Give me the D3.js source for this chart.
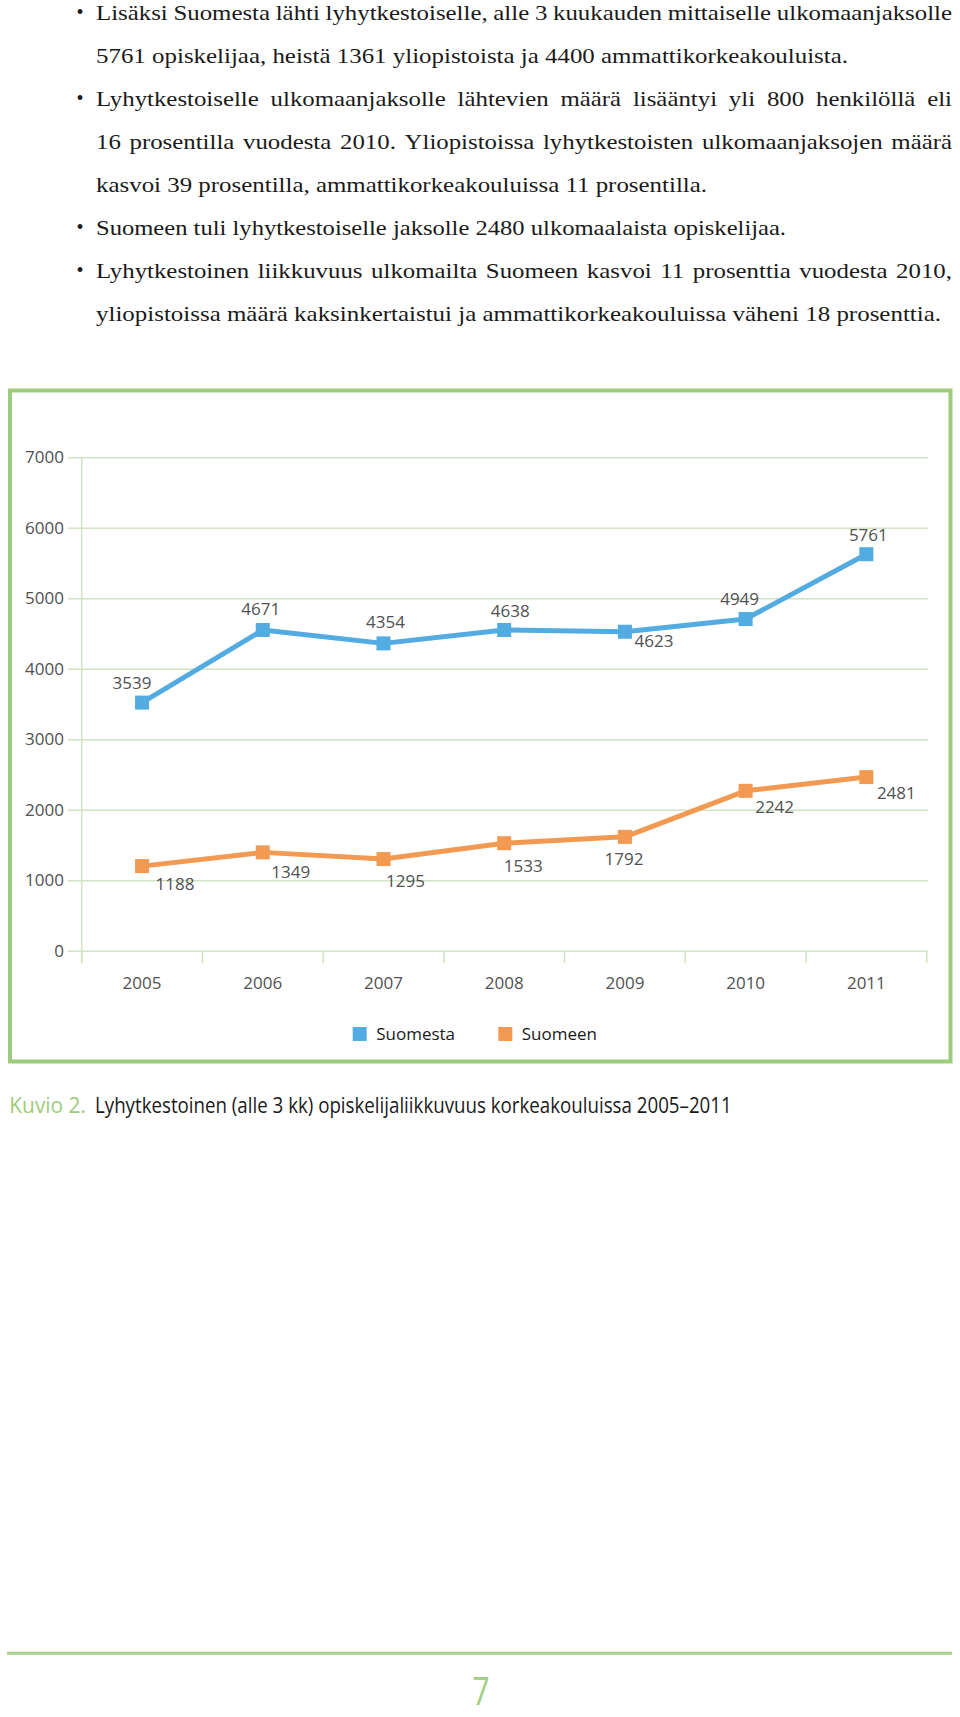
<!DOCTYPE html>
<html><head><meta charset="utf-8">
<script src="https://cdn.jsdelivr.net/npm/d3@7"></script>
<style>html,body{margin:0;padding:0;background:#fff;} svg{display:block}</style>
</head><body>
<svg id="page" width="960" height="1717"></svg>
<script>
// ---- data ----
const years = ["2005", "2006", "2007", "2008", "2009", "2010", "2011"];
const seriesNames = ["Suomesta", "Suomeen"];
const suomestaValues = [3520, 4550, 4360, 4550, 4525, 4705, 5625];
const suomestaLabels = ["3539", "4671", "4354", "4638", "4623", "4949", "5761"];
const suomeenValues = [1200, 1395, 1300, 1525, 1615, 2268, 2463];
const suomeenLabels = ["1188", "1349", "1295", "1533", "1792", "2242", "2481"];
const yTicks = [0, 1000, 2000, 3000, 4000, 5000, 6000, 7000];
const bodyLines = [
  "Lisäksi Suomesta lähti lyhytkestoiselle, alle 3 kuukauden mittaiselle ulkomaanjaksolle",
  "5761 opiskelijaa, heistä 1361 yliopistoista ja 4400 ammattikorkeakouluista.",
  "Lyhytkestoiselle ulkomaanjaksolle lähtevien määrä lisääntyi yli 800 henkilöllä eli",
  "16 prosentilla vuodesta 2010. Yliopistoissa lyhytkestoisten ulkomaanjaksojen määrä",
  "kasvoi 39 prosentilla, ammattikorkeakouluissa 11 prosentilla.",
  "Suomeen tuli lyhytkestoiselle jaksolle 2480 ulkomaalaista opiskelijaa.",
  "Lyhytkestoinen liikkuvuus ulkomailta Suomeen kasvoi 11 prosenttia vuodesta 2010,",
  "yliopistoissa määrä kaksinkertaistui ja ammattikorkeakouluissa väheni 18 prosenttia."
];
const bulletLines = [0, 2, 5, 6];
const captionLead = "Kuvio 2.";
const captionText = "Lyhytkestoinen (alle 3 kk) opiskelijaliikkuvuus korkeakouluissa 2005–2011";
const pageNumber = "7";

// ---- layout / style (not data) ----
const lineLayout = [ // [x0, x1, baseline, justify]
  [96, 952, 19.5, true], [96, 848, 62.5, false], [96, 952, 106, true], [96, 952, 149, true],
  [96, 707, 192, false], [96, 786, 235, false], [96, 952, 278, true], [96, 941, 321, false]
];
const blueOffsets = [[-10,-20],[-2,-21],[2,-22],[6,-19],[29,9],[-6,-20],[2,-19]];
const orangeOffsets = [[33,18],[28,20],[22,22],[19,23],[-1,22],[29,16],[30,16]];
const colors = { blue: "#52abe1", orange: "#f39a52", green: "#9dcc7c", grid: "#d2e3c3", text: "#505153" };
const chartFont = "'Open Sans', 'Noto Sans', sans-serif";

const svg = d3.select("#page");

// ---- body text ----
const body = svg.append("g").attr("font-family", "'Liberation Serif', 'DejaVu Serif', serif")
  .attr("font-size", 22).attr("fill", "#1a1a1a");
function measure(str) {
  const t = body.append("text").text(str);
  const w = t.node().getComputedTextLength();
  t.remove();
  return w;
}
const ks = [];
bodyLines.forEach((s, i) => { if (!lineLayout[i][3]) ks.push((lineLayout[i][1] - lineLayout[i][0]) / measure(s)); });
const k = d3.mean(ks);
bodyLines.forEach((s, i) => {
  const [x0, x1, yb, just] = lineLayout[i];
  if (!just) {
    body.append("text").attr("x", x0).attr("y", yb).text(s)
      .attr("textLength", x1 - x0).attr("lengthAdjust", "spacingAndGlyphs");
  } else {
    const words = s.split(" ");
    const ws = words.map(w => measure(w) * k);
    const gap = (x1 - x0 - d3.sum(ws)) / (words.length - 1);
    let x = x0;
    words.forEach((w, j) => {
      body.append("text").attr("x", x).attr("y", yb).text(w)
        .attr("textLength", ws[j]).attr("lengthAdjust", "spacingAndGlyphs");
      x += ws[j] + gap;
    });
  }
});
bulletLines.forEach(i => {
  body.append("text").attr("x", 80).attr("y", lineLayout[i][2] - 1).attr("text-anchor", "middle")
    .attr("font-size", 20).text("•");
});

// ---- chart frame ----
svg.append("rect").attr("x", 10).attr("y", 390.5).attr("width", 940.5).attr("height", 671)
  .attr("fill", "#fff").attr("stroke", colors.green).attr("stroke-width", 4);

const x = d3.scaleBand().domain(years).range([81.7, 926.7]);
const y = d3.scaleLinear().domain([0, 7000]).range([950.7, 457.3]);
const cx = d => x(d) + x.bandwidth() / 2;

const chart = svg.append("g").attr("font-family", chartFont);

const yAxis = d3.axisLeft(y).tickValues(yTicks).tickSize(-(928 - 68)).tickPadding(4).tickFormat(d3.format("d"));
const yg = chart.append("g").attr("transform", "translate(68,0)").call(yAxis);
yg.select(".domain").remove();
yg.selectAll(".tick line").attr("stroke", colors.grid).attr("stroke-width", 1.5);
yg.selectAll(".tick text").attr("fill", colors.text).attr("font-size", 17).attr("font-family", chartFont);

chart.append("line").attr("x1", x.range()[0]).attr("x2", x.range()[0])
  .attr("y1", y(7000)).attr("y2", y(0) + 12.5).attr("stroke", colors.grid).attr("stroke-width", 1.5);

const xAxis = d3.axisBottom(x).tickSize(0).tickPadding(26.6);
const xg = chart.append("g").attr("transform", `translate(0,${y(0)})`).call(xAxis);
xg.select(".domain").remove();
xg.selectAll(".tick text").attr("fill", colors.text).attr("font-size", 17).attr("font-family", chartFont);
const edges = years.map(d => x(d)).concat([x.range()[1]]);
chart.append("g").selectAll("line").data(edges).join("line")
  .attr("x1", d => d).attr("x2", d => d).attr("y1", y(0)).attr("y2", y(0) + 12.5)
  .attr("stroke", colors.grid).attr("stroke-width", 1.5);

function drawSeries(values, labels, offsets, color) {
  const pts = years.map((yr, i) => [cx(yr), y(values[i])]);
  chart.append("path").attr("d", d3.line()(pts)).attr("fill", "none")
    .attr("stroke", color).attr("stroke-width", 5).attr("stroke-linejoin", "round");
  chart.append("g").selectAll("rect").data(pts).join("rect")
    .attr("x", d => d[0] - 7).attr("y", d => d[1] - 7).attr("width", 14).attr("height", 14)
    .attr("fill", color);
  chart.append("g").selectAll("text").data(pts).join("text")
    .attr("x", (d, i) => d[0] + offsets[i][0]).attr("y", (d, i) => d[1] + offsets[i][1])
    .attr("dy", "0.36em").attr("text-anchor", "middle")
    .attr("font-size", 17).attr("fill", colors.text).text((d, i) => labels[i]);
}
drawSeries(suomestaValues, suomestaLabels, blueOffsets, colors.blue);
drawSeries(suomeenValues, suomeenLabels, orangeOffsets, colors.orange);

const legendX = [352.7, 498.3];
const legendColors = [colors.blue, colors.orange];
const lg = chart.append("g").selectAll("g").data(seriesNames).join("g")
  .attr("transform", (d, i) => `translate(${legendX[i]},1034)`);
lg.append("rect").attr("x", 0).attr("y", -7).attr("width", 14).attr("height", 14)
  .attr("fill", (d, i) => legendColors[i]);
lg.append("text").attr("x", 23.5).attr("dy", "0.36em").attr("font-size", 17)
  .attr("fill", "#1a1a1a").text(d => d);

// caption
svg.append("text").attr("x", 9.3).attr("y", 1113).attr("font-family", chartFont).attr("font-size", 22)
  .attr("fill", colors.green).attr("textLength", 86 - 9.3).attr("lengthAdjust", "spacingAndGlyphs")
  .text(captionLead);
svg.append("text").attr("x", 95).attr("y", 1113).attr("font-family", chartFont).attr("font-size", 22)
  .attr("fill", "#1a1a1a").attr("textLength", 731.7 - 95).attr("lengthAdjust", "spacingAndGlyphs")
  .text(captionText);

// footer
svg.append("line").attr("x1", 7).attr("x2", 952).attr("y1", 1653.3).attr("y2", 1653.3)
  .attr("stroke", "#a9d18e").attr("stroke-width", 3);
svg.append("text").attr("x", 481).attr("y", 1705.5).attr("text-anchor", "middle")
  .attr("font-family", chartFont).attr("font-size", 38).attr("fill", "#9fcf83")
  .attr("transform", "translate(481,0) scale(0.8,1) translate(-481,0)")
  .text(pageNumber);
</script>
</body></html>
